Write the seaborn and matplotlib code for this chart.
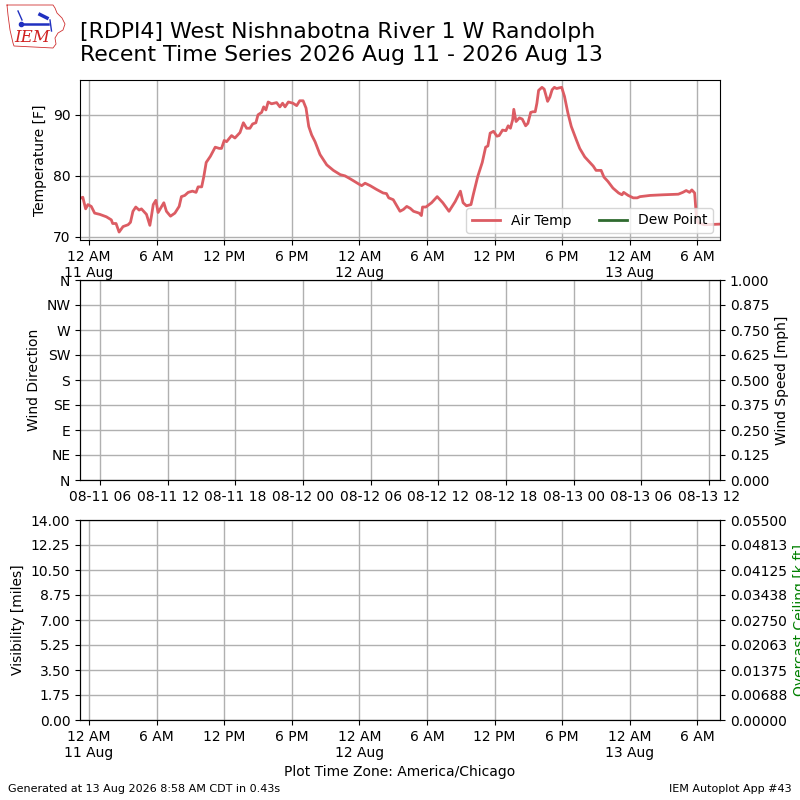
import datetime as dt
import numpy as np
import pandas as pd
import matplotlib
matplotlib.use("Agg")
import matplotlib.pyplot as plt
import matplotlib.dates as mdates
from matplotlib.ticker import FuncFormatter
import seaborn as sns

# ---------------- data ----------------
# hours after 2026-08-11 00:00 CDT
temp_hours = [-0.68, -0.55, -0.3, -0.1, 0.2, 0.5, 0.95, 1.54, 1.98, 2.1, 2.4, 2.67, 3.02, 3.47, 3.68,
              3.9, 4.15, 4.45, 4.65, 5.1, 5.4, 5.54, 5.7, 5.93, 6.13, 6.64, 6.87, 7.23, 7.62, 8.0,
              8.2, 8.5, 8.8, 9.18, 9.5, 9.68, 10.0, 10.19, 10.4, 10.77, 11.2, 11.56, 11.76, 12.0,
              12.21, 12.65, 12.95, 13.4, 13.7, 13.99, 14.28, 14.52, 14.81, 15.0, 15.32, 15.5, 15.7,
              15.9, 16.2, 16.65, 16.94, 17.18, 17.4, 17.69, 18.1, 18.43, 18.7, 19.0, 19.26, 19.5,
              19.76, 20.06, 20.5, 21.1, 21.69, 22.3, 22.72, 23.2, 24.0, 24.2, 24.5, 24.95, 25.5,
              26.1, 26.4, 26.6, 27.0, 27.6, 27.9, 28.2, 28.5, 28.8, 29.3, 29.5, 29.6, 29.9, 30.4,
              30.9, 31.4, 31.95, 32.5, 32.96, 33.2, 33.5, 33.9, 34.1, 34.5, 34.9, 35.2, 35.4, 35.6,
              35.9, 36.2, 36.4, 36.7, 37.0, 37.2, 37.4, 37.6, 37.7, 37.9, 38.2, 38.45, 38.75, 38.95,
              39.2, 39.4, 39.6, 39.75, 39.9, 40.2, 40.4, 40.7, 40.9, 41.1, 41.3, 41.5, 41.7, 41.95,
              42.2, 42.5, 42.8, 43.25, 43.55, 44.0, 44.5, 44.75, 45.0, 45.45, 45.7, 46.05, 46.5,
              47.0, 47.3, 47.45, 47.85, 48.3, 48.65, 48.9, 49.8, 50.9, 52.3, 52.7, 53.0, 53.3, 53.5,
              53.75, 53.9, 54.05, 54.6, 56.0]
air_temp_f = [76.4, 76.5, 74.6, 75.3, 75.0, 73.9, 73.7, 73.3, 72.8, 72.2, 72.2, 70.8, 71.7, 72.0, 72.4,
              74.2, 74.9, 74.4, 74.6, 73.7, 71.9, 73.4, 75.3, 76.0, 74.0, 75.6, 74.2, 73.4, 73.9, 75.0,
              76.6, 76.8, 77.3, 77.5, 77.3, 78.2, 78.2, 79.9, 82.2, 83.2, 84.7, 84.5, 84.5, 85.8,
              85.6, 86.6, 86.2, 87.1, 88.7, 87.8, 87.8, 88.5, 88.7, 90.0, 90.4, 91.3, 90.8,
              92.1, 91.8, 92.0, 91.3, 91.9, 91.3, 92.1, 91.9, 91.5, 92.3, 92.3, 91.1, 88.1,
              86.7, 85.6, 83.5, 81.8, 80.9, 80.2, 80.0, 79.5, 78.6, 78.4, 78.8, 78.4, 77.8,
              77.2, 77.1, 76.4, 76.1, 74.2, 74.5, 75.0, 74.7, 74.2, 73.9, 73.5, 74.9, 74.9, 75.6,
              76.6, 75.6, 74.2, 75.8, 77.5, 75.6, 75.1, 75.3, 76.9, 79.9, 82.2, 84.7, 84.9, 87.0,
              87.3, 86.5, 86.6, 87.5, 87.4, 88.2, 87.8, 89.2, 90.9, 88.9, 89.5, 89.3, 88.2, 88.6,
              90.4, 90.5, 90.5, 91.9, 94.0, 94.5, 94.2, 92.2, 92.9, 94.1, 94.5, 94.3, 94.4, 94.5,
              93.0, 90.3, 88.1, 85.9, 84.5, 83.1, 82.1, 81.6, 80.9, 80.9, 79.8, 79.1, 78.0,
              77.2, 76.9, 77.3, 76.8, 76.4, 76.4, 76.6, 76.8, 76.9, 77.0, 77.3, 77.6, 77.3, 77.7,
              77.2, 73.4, 72.3, 72.0, 72.1]
dew_point_hours = []
dew_point_f = []

wind_dir_labels = ["N", "NE", "E", "SE", "S", "SW", "W", "NW", "N"]
wind_dir_ticks = [0, 45, 90, 135, 180, 225, 270, 315, 360]
wind_speed_ticks = [0.0, 0.125, 0.25, 0.375, 0.5, 0.625, 0.75, 0.875, 1.0]
vis_ticks = [0.0, 1.75, 3.5, 5.25, 7.0, 8.75, 10.5, 12.25, 14.0]
ceiling_ticks = [0.0, 0.006875, 0.01375, 0.020625, 0.0275, 0.034375, 0.04125, 0.048125, 0.055]

title_text = ("[RDPI4] West Nishnabotna River 1 W Randolph\n"
              "Recent Time Series 2026 Aug 11 - 2026 Aug 13")

base = dt.datetime(2026, 8, 11, 0, 0)
times = [base + dt.timedelta(hours=h) for h in temp_hours]
dew_times = [base + dt.timedelta(hours=h) for h in dew_point_hours]
df = pd.DataFrame({"time": times, "temp": air_temp_f})
xmin = base + dt.timedelta(hours=-0.8)
xmax = base + dt.timedelta(hours=56.0)

AIR_COLOR = "#dc5c63"
DEW_COLOR = "#2f6a2f"

fig = plt.figure(figsize=(8, 8), dpi=100)

# --------- top panel ---------
ax1 = fig.add_axes([0.1, 0.70, 0.8, 0.20])
sns.lineplot(data=df, x="time", y="temp", ax=ax1, color=AIR_COLOR, lw=2, label="Air Temp")
ax1.plot(dew_times, dew_point_f, color=DEW_COLOR, lw=2, label="Dew Point")
ax1.set_xlim(xmin, xmax)
ax1.set_ylim(69.5, 95.7)
ax1.set_ylabel("Temperature [F]")
ax1.set_xlabel("")
ax1.grid(True, color="#b0b0b0", lw=1)
ax1.legend(loc="lower right", ncol=2, fontsize=10, framealpha=0.8)


def local_fmt(x, pos=None):
    d = mdates.num2date(x).replace(tzinfo=None)
    h = d.hour
    if h == 0:
        return "12 AM\n" + d.strftime("%d %b")
    if h == 12:
        return "12 PM"
    return f"{h % 12} {'AM' if h < 12 else 'PM'}"


ax1.xaxis.set_major_locator(mdates.HourLocator(byhour=[0, 6, 12, 18]))
ax1.xaxis.set_major_formatter(FuncFormatter(local_fmt))

# --------- middle panel ---------
ax2 = fig.add_axes([0.1, 0.40, 0.8, 0.25])
ax2.set_xlim(xmin, xmax)
ax2.set_ylim(0, 360)
ax2.set_yticks(wind_dir_ticks)
ax2.set_yticklabels(wind_dir_labels)
ax2.set_ylabel("Wind Direction")
ax2.grid(True, color="#b0b0b0", lw=1)
ax2.xaxis.set_major_locator(mdates.HourLocator(byhour=[1, 7, 13, 19]))


def utc_fmt(x, pos=None):
    d = mdates.num2date(x).replace(tzinfo=None) + dt.timedelta(hours=5)
    return d.strftime("%m-%d %H")


ax2.xaxis.set_major_formatter(FuncFormatter(utc_fmt))
ax2r = ax2.twinx()
ax2r.set_ylim(0, 1)
ax2r.set_yticks(wind_speed_ticks)
ax2r.set_yticklabels([f"{v:.3f}" for v in wind_speed_ticks])
ax2r.set_ylabel("Wind Speed [mph]")

# --------- bottom panel ---------
ax3 = fig.add_axes([0.1, 0.10, 0.8, 0.25])
ax3.set_xlim(xmin, xmax)
ax3.set_ylim(0, 14)
ax3.set_yticks(vis_ticks)
ax3.set_yticklabels([f"{v:.2f}" for v in vis_ticks])
ax3.set_ylabel("Visibility [miles]")
ax3.grid(True, color="#b0b0b0", lw=1)
ax3.xaxis.set_major_locator(mdates.HourLocator(byhour=[0, 6, 12, 18]))
ax3.xaxis.set_major_formatter(FuncFormatter(local_fmt))
ax3.set_xlabel("Plot Time Zone: America/Chicago")
ax3r = ax3.twinx()
ax3r.set_ylim(0, 0.055)
ax3r.set_yticks(ceiling_ticks)
ax3r.set_yticklabels([f"{v:.5f}" for v in ceiling_ticks])
ax3r.set_ylabel("Overcast Ceiling [k ft]", color="green")

# --------- titles / footers ---------
fig.text(0.1, 0.973, title_text, fontsize=15.8, va="top", ha="left", linespacing=1.2)
fig.text(0.01, 0.008, "Generated at 13 Aug 2026 8:58 AM CDT in 0.43s", fontsize=8, ha="left", va="bottom")
fig.text(0.99, 0.008, "IEM Autoplot App #43", fontsize=8, ha="right", va="bottom")

# --------- logo (pixel coordinates inside its own axes) ---------
lax = fig.add_axes([5 / 800, 1 - 52 / 800, 62 / 800, 49 / 800])
lax.set_xlim(5, 67)
lax.set_ylim(52, 3)
lax.axis("off")
iowa_x = [7, 53, 55, 57, 62, 65, 63, 58, 55, 56, 53, 14, 13, 10, 8, 7]
iowa_y = [5, 5, 8, 13, 18, 24, 30, 33, 38, 44, 48, 46, 43, 30, 15, 5]
lax.plot(iowa_x, iowa_y, color="#d03030", lw=0.6)
lax.plot([18, 22], [11, 20], color="#2030c0", lw=1.0)
lax.plot([21, 48], [24, 24], color="#2030c0", lw=1.8)
lax.plot([21], [24], "o", color="#2030c0", ms=3)
lax.plot([40, 47], [14.5, 18], color="#2030c0", lw=2.5)
lax.plot([50, 51.5], [20, 31], color="#2030c0", lw=1.0)
lax.text(32, 38, "IEM", color="#d02020", fontsize=12, family="serif", style="italic",
         ha="center", va="center")

fig.savefig("out.png", dpi=100)
